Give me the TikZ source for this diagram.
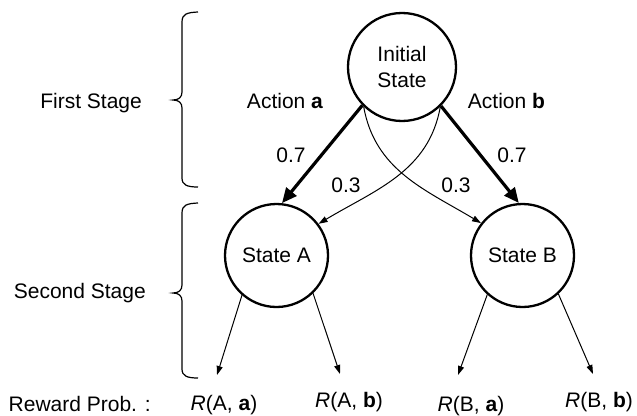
\documentclass[tikz,border=0pt]{standalone}
\usepackage{fontspec}
\setmainfont{Liberation Sans}
\usetikzlibrary{arrows.meta}
\begin{document}
\begin{tikzpicture}[x=1pt,y=-1pt,
  every node/.style={font=\fontsize{21}{26}\selectfont},
  statenode/.style={circle,draw,line width=2.3pt,inner sep=0pt,align=center},
  bigarrow/.style={line width=3.2pt,-{Triangle[length=15pt,width=13pt]}},
  smallarrow/.style={line width=1pt,-{Triangle[length=9pt,width=6pt]}},
  lbl/.style={anchor=base,inner sep=0pt},
  stagelbl/.style={anchor=base east,inner sep=0pt},
  bracepath/.style={line width=1.2pt}]
\useasboundingbox (0,0) rectangle (637,415);

% states
\node[statenode,minimum size=108pt] (init) at (402,67) {Initial\\State};
\node[statenode,minimum size=103pt] (A) at (276.5,255.5) {State A};
\node[statenode,minimum size=103pt] (B) at (522.5,255.5) {State B};

% thick arrows
\draw[bigarrow] (init.-136) -- (A.84);
\draw[bigarrow] (init.-45) -- (B.94);

% thin curved arrows
\draw[smallarrow] (init.-134) to[out=-80,in=149] (B.142);
\draw[smallarrow] (init.-46) to[out=-100,in=31] (A.37);

% reward arrows
\coordinate (rAa) at (217,375);
\coordinate (rAb) at (340,374);
\coordinate (rBa) at (458,375);
\coordinate (rBb) at (593,374);
\draw[smallarrow] (A.-131) -- (rAa);
\draw[smallarrow] (A.-46) -- (rAb);
\draw[smallarrow] (B.-132) -- (rBa);
\draw[smallarrow] (B.-47) -- (rBb);

% labels
\node[lbl] (acta) at (285,108) {Action \textbf{a}};
\node[lbl] (actb) at (506.5,108) {Action \textbf{b}};
\node[lbl] (p7a) at (291,162) {0.7};
\node[lbl] (p7b) at (512,162) {0.7};
\node[lbl] (p3a) at (346,192) {0.3};
\node[lbl] (p3b) at (456,192) {0.3};

% rewards
\node[anchor=base west,inner sep=0pt] (rp) at (8.5,411) {Reward Prob. :};
\node[lbl] (RAa) at (224,410) {\textit{R}(A, \textbf{a})};
\node[lbl] (RAb) at (349,407) {\textit{R}(A, \textbf{b})};
\node[lbl] (RBa) at (471,411) {\textit{R}(B, \textbf{a})};
\node[lbl] (RBb) at (599,407) {\textit{R}(B, \textbf{b})};

% stages
\node[stagelbl] (s1) at (142,108) {First Stage};
\node[stagelbl] (s2) at (146,298) {Second Stage};

% braces
\draw[bracepath] (198,12) .. controls (187,12.5) and (182,14) .. (182,22)
  -- (182,92) .. controls (182,97) and (179,100) .. (173,100)
  .. controls (179,100) and (182,103) .. (182,108)
  -- (182,178) .. controls (182,185) and (187,187) .. (198,187);
\draw[bracepath] (198,203) .. controls (187,203.5) and (182,205) .. (182,213)
  -- (182,285) .. controls (182,290) and (179,293) .. (173,293)
  .. controls (179,293) and (182,296) .. (182,301)
  -- (182,369) .. controls (182,376) and (187,378) .. (198,378);
\end{tikzpicture}
\end{document}
